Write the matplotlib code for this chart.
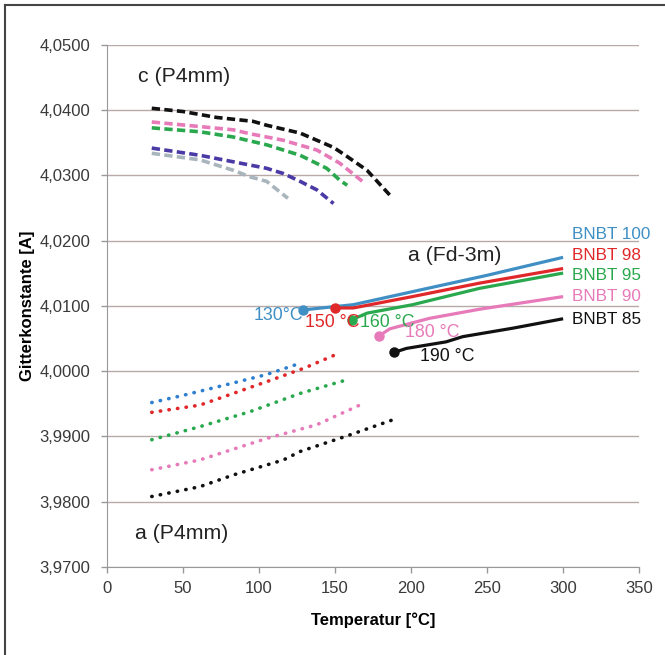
import matplotlib.pyplot as plt
from matplotlib.lines import Line2D

plt.rcParams['font.family'] = ['Liberation Sans', 'DejaVu Sans']

# c (P4mm) - dashed curves
c_black_T = [29.4, 50, 72, 96, 105, 127, 149, 158, 171, 186]
c_black = [4.0403, 4.0398, 4.0389, 4.0383, 4.0377, 4.0365, 4.0343, 4.0329, 4.0308, 4.0270]
c_pink_T = [29.4, 61, 83, 94, 116, 138, 153, 168]
c_pink = [4.0382, 4.0375, 4.0370, 4.0364, 4.0354, 4.0339, 4.0319, 4.0291]
c_green_T = [29.4, 61, 83, 105, 127, 144.5, 153, 158]
c_green = [4.0373, 4.0367, 4.0359, 4.0347, 4.0331, 4.0311, 4.0293, 4.0285]
c_navy_T = [29.4, 61, 83, 105, 116, 127, 138, 149]
c_navy = [4.0342, 4.0331, 4.0321, 4.0311, 4.0303, 4.0291, 4.0278, 4.0257]
c_gray_T = [29.4, 61, 83, 94, 105, 119]
c_gray = [4.0334, 4.0324, 4.0308, 4.0298, 4.0291, 4.0265]

# a (P4mm) - dotted curves
a_blue_T = [29.4, 50, 83, 105, 128]
a_blue = [3.9952, 3.9963, 3.9982, 3.9995, 4.0013]
a_red_T = [29.4, 61, 105, 130, 151]
a_red = [3.9937, 3.9948, 3.9984, 4.0005, 4.0026]
a_green_T = [29.4, 61, 94, 127, 158, 160]
a_green = [3.9895, 3.9915, 3.9938, 3.9966, 3.9987, 3.9989]
a_pink_T = [29.4, 61, 105, 138, 168]
a_pink = [3.9849, 3.9864, 3.9897, 3.9918, 3.9950]
a_black_T = [29.4, 61, 83, 116, 127, 158, 191]
a_black = [3.9808, 3.9823, 3.9841, 3.9864, 3.9877, 3.9901, 3.9928]

# a (Fd-3m) - solid curves
f_blue_T = [129, 162, 201, 250, 299]
f_blue = [4.0094, 4.0102, 4.0122, 4.0147, 4.0174]
f_red_T = [150, 162, 200, 245, 299]
f_red = [4.0097, 4.0097, 4.0114, 4.0135, 4.0157]
f_green_T = [161, 171, 201, 245, 299]
f_green = [4.0079, 4.0089, 4.0102, 4.0127, 4.0150]
f_pink_T = [179, 186, 212, 245, 299]
f_pink = [4.0054, 4.0065, 4.0081, 4.0095, 4.0114]
f_black_T = [189, 197, 223, 234, 267, 299]
f_black = [4.0029, 4.0035, 4.0045, 4.0053, 4.0066, 4.0080]

names = ['BNBT 100', 'BNBT 98', 'BNBT 95', 'BNBT 90', 'BNBT 85']
name_y = [4.0209, 4.0178, 4.0147, 4.0114, 4.0079]
temp_labels = ['130°C', '150 °C', '160 °C', '180 °C', '190 °C']
temp_x = [129, 130.3, 166.4, 196, 206]
temp_y = [4.0086, 4.0074, 4.0075, 4.0060, 4.0022]

blue = '#3f8fc5'
red = '#e0282a'
green = '#2aa84e'
pink = '#e77ab9'
black = '#111111'
navy = '#4a3aa6'
gray = '#a9b5bd'

fig = plt.figure(figsize=(6.65, 6.55), dpi=100)
ax = fig.add_axes([0.161, 0.1344, 0.800, 0.7969])

dash = (0, (2.3, 1.2))
dot = (0, (0.1, 2.3))
ax.plot(c_gray_T, c_gray, color=gray, lw=2.6, ls=dash)
ax.plot(c_navy_T, c_navy, color=navy, lw=2.6, ls=dash)
ax.plot(c_green_T, c_green, color=green, lw=2.6, ls=dash)
ax.plot(c_pink_T, c_pink, color=pink, lw=2.6, ls=dash)
ax.plot(c_black_T, c_black, color=black, lw=2.6, ls=dash)

for T, v, col in [(a_blue_T, a_blue, '#2f7fd0'), (a_red_T, a_red, red), (a_green_T, a_green, green),
                  (a_pink_T, a_pink, pink), (a_black_T, a_black, black)]:
    ax.plot(T, v, color=col, lw=2.6, ls=dot, dash_capstyle='round')

cols = [blue, red, green, pink, black]
for T, v, col in zip([f_blue_T, f_red_T, f_green_T, f_pink_T, f_black_T],
                     [f_blue, f_red, f_green, f_pink, f_black], cols):
    ax.plot(T, v, color=col, lw=2.3)
    ax.plot(T[0], v[0], 'o', color=col, ms=6.5)

for n, y, col in zip(names, name_y, cols):
    ax.text(306, y, n, color=col, fontsize=12.3, va='center', ha='left')

for i, (t, x, y, col) in enumerate(zip(temp_labels, temp_x, temp_y, cols)):
    ax.text(x, y, t, color=col, fontsize=12.8, va='center', ha='right' if i == 0 else 'left')

ax.text(20.4, 4.0451, 'c (P4mm)', fontsize=15.3, va='center', color='#222222')
ax.text(198, 4.0178, 'a (Fd-3m)', fontsize=15.3, va='center', color='#222222')
ax.text(18.4, 3.9752, 'a (P4mm)', fontsize=15.3, va='center', color='#222222')

ax.set_xlim(0, 350)
ax.set_ylim(3.97, 4.05)
ax.set_xticks(range(0, 351, 50))
yt = [3.97 + 0.01 * i for i in range(9)]
ax.set_yticks(yt)
ax.set_yticklabels([('%.4f' % v).replace('.', ',') for v in yt])
ax.tick_params(labelsize=12, labelcolor='#3a3a3a', length=4, width=1, color='#999999')
ax.tick_params(axis='y', pad=8)
ax.tick_params(axis='x', pad=6)
ax.grid(axis='y', color='#b8a9a9', lw=1)
ax.set_axisbelow(True)
for s in ['top', 'right']:
    ax.spines[s].set_visible(False)
for s in ['left', 'bottom']:
    ax.spines[s].set_color('#999999')

ax.set_xlabel('Temperatur [°C]', fontsize=12, fontweight='bold', labelpad=12)
ax.set_ylabel('Gitterkonstante [A]', fontsize=12, fontweight='bold', labelpad=3)

# frame round the picture (left and top edges)
fig.add_artist(Line2D([0.008, 0.008], [0, 0.992], color='#444444', lw=1.5, transform=fig.transFigure))
fig.add_artist(Line2D([0.008, 1], [0.992, 0.992], color='#444444', lw=1.5, transform=fig.transFigure))

fig.savefig('out.png', dpi=100)
